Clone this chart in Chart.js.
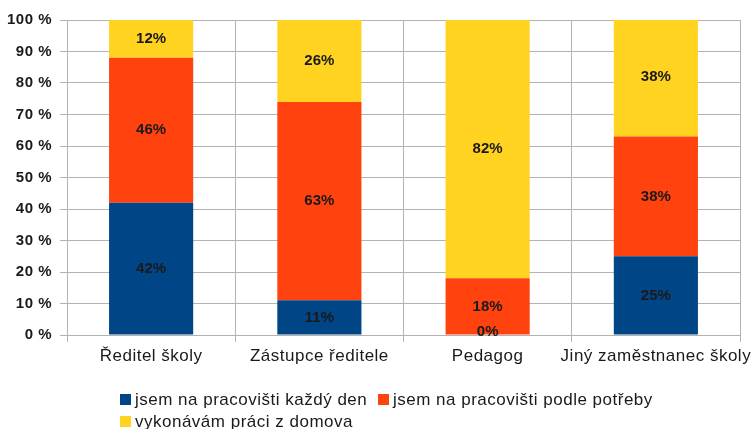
<!DOCTYPE html>
<html>
<head>
<meta charset="utf-8">
<script src="https://cdn.jsdelivr.net/npm/chart.js@4/dist/chart.umd.min.js"></script>
<style>
  html, body { margin: 0; padding: 0; background: #fff; }
  #wrap { width: 751px; height: 429px; }
</style>
</head>
<body>
<div id="wrap"><canvas id="myChart" width="751" height="429"></canvas></div>
<script>
// Data
const categories = ['Ředitel školy', 'Zástupce ředitele', 'Pedagog', 'Jiný zaměstnanec školy'];
const seriesNames = ['jsem na pracovišti každý den', 'jsem na pracovišti podle potřeby', 'vykonávám práci z domova'];
const everyDay = [42, 11, 0, 25];
const asNeeded = [46, 63, 18, 38];
const fromHome = [12, 26, 82, 38];
const yTicks = [0, 10, 20, 30, 40, 50, 60, 70, 80, 90, 100];

const colors = ['#004586', '#ff420e', '#ffd320'];
const FONT = '"Liberation Sans", Arial, sans-serif';

// slightly wider text, like the original office export
const spacing = {
    id: 'spacing',
    beforeUpdate(chart) { chart.ctx.letterSpacing = '0.5px'; },
    beforeDraw(chart) { chart.ctx.letterSpacing = '0.5px'; }
};

// value labels in the middle of each segment
const valueLabels = {
    id: 'valueLabels',
    afterDatasetsDraw(chart) {
        const ctx = chart.ctx;
        ctx.save();
        ctx.letterSpacing = '0px';
        ctx.font = 'bold 15px ' + FONT;
        ctx.fillStyle = '#1a1a1a';
        ctx.textAlign = 'center';
        ctx.textBaseline = 'middle';
        chart.data.datasets.forEach((ds, i) => {
            const meta = chart.getDatasetMeta(i);
            meta.data.forEach((bar, j) => {
                const v = ds.data[j];
                if (v === null || v === undefined) return;
                const p = bar.getProps(['x', 'y', 'base'], true);
                let y = (p.y + p.base) / 2;
                if (v === 0) y = p.base - 3;
                ctx.fillText(v + '%', p.x, y);
            });
        });
        ctx.restore();
    }
};

// legend drawn below the plot, rows left aligned
const bottomLegend = {
    id: 'bottomLegend',
    afterDraw(chart) {
        const ctx = chart.ctx;
        ctx.save();
        ctx.letterSpacing = '0.5px';
        ctx.font = '17px ' + FONT;
        ctx.textBaseline = 'middle';
        const rows = [
            [{ i: 0, x: 120 }, { i: 1, x: 378 }],
            [{ i: 2, x: 120 }]
        ];
        const rowY = [399, 421];
        rows.forEach((row, r) => {
            row.forEach(item => {
                ctx.fillStyle = colors[item.i];
                ctx.fillRect(item.x, rowY[r] - 5, 11, 11);
                ctx.fillStyle = '#1a1a1a';
                ctx.fillText(seriesNames[item.i], item.x + 15, rowY[r] + 1);
            });
        });
        ctx.restore();
    }
};

const ctx = document.getElementById('myChart').getContext('2d');
const chart = new Chart(ctx, {
    type: 'bar',
    data: {
        labels: categories,
        datasets: [
            { label: seriesNames[0], data: everyDay, backgroundColor: colors[0] },
            { label: seriesNames[1], data: asNeeded, backgroundColor: colors[1] },
            { label: seriesNames[2], data: fromHome, backgroundColor: colors[2] }
        ]
    },
    options: {
        responsive: false,
        animation: false,
        events: [],
        layout: {
            padding: { top: 20, right: 11, bottom: 44, left: 0 }
        },
        datasets: {
            bar: {
                categoryPercentage: 1.0,
                barPercentage: 0.5
            }
        },
        plugins: {
            legend: { display: false },
            tooltip: { enabled: false }
        },
        scales: {
            x: {
                stacked: true,
                afterFit(scale) {
                    scale.height = 50;
                    scale.paddingLeft = 0;
                    scale.paddingRight = 0;
                },
                grid: {
                    color: '#b3b3b3',
                    offset: true,
                    tickLength: 7
                },
                border: { color: '#b3b3b3' },
                ticks: {
                    color: '#1a1a1a',
                    padding: 4,
                    autoSkip: false,
                    minRotation: 0,
                    maxRotation: 0,
                    font: { size: 17, family: FONT }
                }
            },
            y: {
                stacked: true,
                min: 0,
                max: 100,
                afterFit(scale) {
                    scale.width = 67;
                    scale.paddingTop = 0;
                    scale.paddingBottom = 0;
                },
                afterBuildTicks(scale) {
                    scale.ticks = yTicks.map(v => ({ value: v }));
                },
                grid: {
                    color: '#b3b3b3',
                    tickLength: 7
                },
                border: { color: '#b3b3b3' },
                ticks: {
                    color: '#1a1a1a',
                    padding: 8,
                    font: { size: 15, weight: 'bold', family: FONT },
                    callback: v => v + ' %'
                }
            }
        }
    },
    plugins: [spacing, valueLabels, bottomLegend]
});
</script>
</body>
</html>
